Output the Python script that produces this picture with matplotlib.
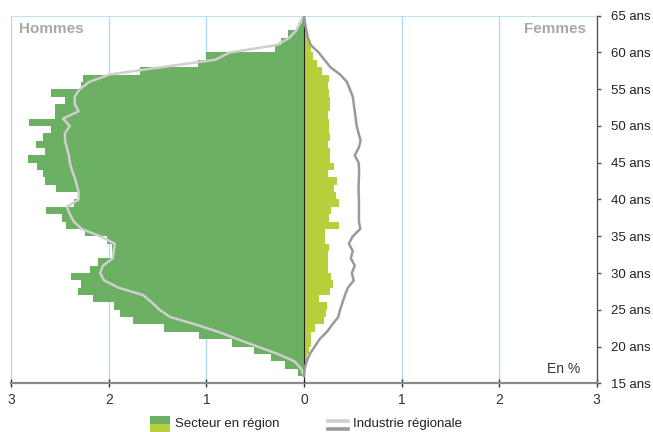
import matplotlib
matplotlib.use("Agg")
import matplotlib.pyplot as plt
from matplotlib.patches import Rectangle
from matplotlib.lines import Line2D

plt.rcParams.update({"font.family": ["Liberation Sans", "DejaVu Sans"], "font.size": 9.5})

# one bar per age (bar spans age .. age+1), values in %
ages = list(range(16, 65))
hommes = [0.06, 0.19, 0.34, 0.51, 0.74, 1.08, 1.44, 1.75, 1.89, 1.95,
          2.16, 2.32, 2.29, 2.39, 2.19, 2.11, 1.97, 1.97, 2.02, 2.24,
          2.44, 2.48, 2.64, 2.36, 2.31, 2.54, 2.65, 2.68, 2.74, 2.83,
          2.65, 2.75, 2.68, 2.59, 2.82, 2.55, 2.55, 2.45, 2.59, 2.29,
          2.27, 1.68, 1.09, 1.00, 0.30, 0.24, 0.16, 0.06, 0.02]
femmes = [0.01, 0.02, 0.035, 0.055, 0.068, 0.075, 0.116, 0.20, 0.225, 0.24,
          0.15, 0.27, 0.30, 0.28, 0.25, 0.245, 0.25, 0.26, 0.215, 0.22,
          0.36, 0.26, 0.28, 0.36, 0.33, 0.31, 0.34, 0.245, 0.31, 0.27,
          0.27, 0.245, 0.27, 0.26, 0.26, 0.245, 0.27, 0.27, 0.26, 0.25,
          0.26, 0.18, 0.13, 0.092, 0.068, 0.048, 0.034, 0.02, 0.01]

# industrie regionale, read at whole ages 16..65
ages_ind = list(range(16, 66))
ind_hommes = [0.0, 0.03, 0.10, 0.27, 0.48, 0.68, 0.88, 1.11, 1.37, 1.48,
              1.56, 1.65, 1.90, 2.05, 2.09, 2.06, 1.96, 1.95, 1.94, 2.09,
              2.28, 2.36, 2.40, 2.43, 2.31, 2.31, 2.33, 2.35, 2.38, 2.40,
              2.41, 2.43, 2.45, 2.45, 2.40, 2.47, 2.31, 2.35, 2.35, 2.30,
              2.20, 1.99, 1.46, 0.91, 0.76, 0.28, 0.15, 0.08, 0.04, 0.01]
ind_femmes = [0.0, 0.007, 0.028, 0.06, 0.11, 0.16, 0.235, 0.29, 0.35, 0.37,
              0.395, 0.42, 0.45, 0.51, 0.49, 0.52, 0.48, 0.50, 0.46, 0.50,
              0.577, 0.563, 0.563, 0.563, 0.563, 0.56, 0.56, 0.563, 0.565, 0.56,
              0.52, 0.56, 0.58, 0.56, 0.54, 0.53, 0.52, 0.51, 0.50, 0.47,
              0.44, 0.37, 0.27, 0.21, 0.15, 0.07, 0.04, 0.024, 0.01, 0.0]

x_ticks = [-3, -2, -1, 0, 1, 2, 3]
y_ticks = [15, 20, 25, 30, 35, 40, 45, 50, 55, 60, 65]

GREEN, LIME = "#6cb163", "#b6cf3b"
LIGHT, DARK = "#cfcfcf", "#9a9a9a"
BLUE = "#b0dbf2"

W, H = 653, 432
fig = plt.figure(figsize=(W / 100, H / 100), dpi=100)
ax = fig.add_axes([11.3 / W, 1 - 383.3 / H, (596.7 - 11.3) / W, (383.3 - 15.7) / H])

ax.barh(ages, [-v for v in hommes], height=1.0, align="edge", color=GREEN, lw=0, zorder=2)
ax.barh(ages, femmes, height=1.0, align="edge", color=LIME, lw=0, zorder=2)
ax.plot([-v for v in ind_hommes], ages_ind, color=LIGHT, lw=1.8, zorder=4, solid_joinstyle="round")
ax.plot(ind_femmes, ages_ind, color=DARK, lw=1.8, zorder=4, solid_joinstyle="round")
ax.axvline(0, color="#222222", lw=0.8, zorder=3)

for gx in [-3, -2, -1, 1, 2]:
    ax.axvline(gx, color=BLUE, lw=1.0, zorder=0)
ax.axhline(65, color=BLUE, lw=1.2, zorder=0)

ax.set_xlim(-3, 3)
ax.set_ylim(15, 65)
for s in ["left", "top"]:
    ax.spines[s].set_visible(False)
ax.spines["right"].set_color("#555555")
ax.spines["right"].set_linewidth(1.0)
ax.spines["bottom"].set_color("#8a8a8a")
ax.spines["bottom"].set_linewidth(1.6)

ax.set_xticks(x_ticks)
ax.set_xticklabels([str(abs(t)) for t in x_ticks])
ax.tick_params(axis="x", direction="inout", length=6, width=1, color="#333333",
               labelcolor="#333333", pad=4, labelsize=10)
ax.yaxis.tick_right()
ax.set_yticks(y_ticks)
ax.set_yticklabels([f"{t} ans" for t in y_ticks])
ax.tick_params(axis="y", direction="out", length=3, width=1, color="#555555",
               labelcolor="#222222", pad=7, labelsize=9.5)

ax.text(0.014, 0.965, "Hommes", transform=ax.transAxes, ha="left", va="center",
        fontsize=11, fontweight="bold", color="#a8a8a8")
ax.text(0.982, 0.965, "Femmes", transform=ax.transAxes, ha="right", va="center",
        fontsize=11, fontweight="bold", color="#a8a8a8")
ax.text(0.972, 0.04, "En %", transform=ax.transAxes, ha="right", va="center",
        fontsize=10, color="#333333")

# legend drawn by hand under the axis
def fx(px): return px / W
def fy(py): return 1 - py / H

fig.add_artist(Rectangle((fx(150), fy(424)), 20 / W, 8 / H, transform=fig.transFigure,
                         color=GREEN, lw=0))
fig.add_artist(Rectangle((fx(150), fy(432)), 20 / W, 8 / H, transform=fig.transFigure,
                         color=LIME, lw=0))
fig.text(fx(175), fy(424), "Secteur en région", ha="left", va="center", fontsize=9.5, color="#222222")
fig.add_artist(Line2D([fx(328), fx(348)], [fy(420.5), fy(420.5)], transform=fig.transFigure,
                      color=LIGHT, lw=2.6))
fig.add_artist(Line2D([fx(328), fx(348)], [fy(429), fy(429)], transform=fig.transFigure,
                      color=DARK, lw=2.6))
fig.text(fx(353), fy(424), "Industrie régionale", ha="left", va="center", fontsize=9.5, color="#222222")

fig.savefig("out.png", dpi=100)
